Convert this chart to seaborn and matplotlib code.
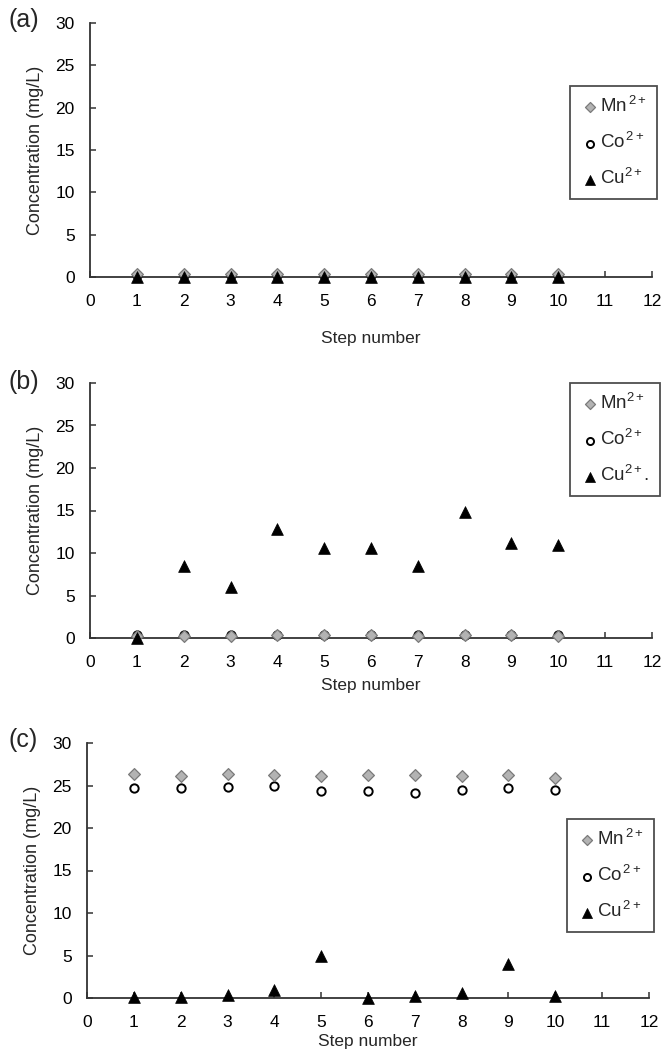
import matplotlib
matplotlib.use("Agg")
import matplotlib.pyplot as plt
import seaborn as sns
import pandas as pd

sns.set_theme(style="white")
plt.rcParams["font.family"] = ["Liberation Sans", "DejaVu Sans"]
plt.rcParams["mathtext.fontset"] = "custom"
plt.rcParams["mathtext.rm"] = "Liberation Sans"
plt.rcParams["mathtext.it"] = "Liberation Sans"
plt.rcParams["mathtext.default"] = "regular"

steps = [1, 2, 3, 4, 5, 6, 7, 8, 9, 10]

# (a)
mn_a = [0.3, 0.3, 0.3, 0.3, 0.3, 0.3, 0.3, 0.3, 0.3, 0.3]
co_a = [0.2, 0.2, 0.2, 0.2, 0.2, 0.2, 0.2, 0.2, 0.2, 0.2]
cu_a = [0.0, 0.0, 0.0, 0.0, 0.0, 0.0, 0.0, 0.0, 0.0, 0.0]

# (b)
mn_b = [0.2, 0.2, 0.2, 0.3, 0.3, 0.3, 0.2, 0.3, 0.3, 0.2]
co_b = [0.3, 0.3, 0.3, 0.4, 0.4, 0.4, 0.3, 0.4, 0.4, 0.3]
cu_b = [0.0, 8.5, 6.0, 12.8, 10.6, 10.6, 8.5, 14.8, 11.2, 11.0]

# (c)
mn_c = [26.3, 26.1, 26.4, 26.2, 26.1, 26.2, 26.2, 26.1, 26.2, 25.9]
co_c = [24.7, 24.7, 24.8, 25.0, 24.4, 24.4, 24.1, 24.5, 24.7, 24.5]
cu_c = [0.1, 0.1, 0.3, 1.0, 4.9, 0.0, 0.2, 0.6, 4.0, 0.2]

panel_tags = ["(a)", "(b)", "(c)"]
legend_labels = [
    [r"Mn$^{\,2+}$", r"Co$^{\,2+}$", r"Cu$^{2+}$"],
    [r"Mn$^{2+}$", r"Co$^{2+}$", r"Cu$^{2+}$."],
    [r"Mn$^{\,2+}$", r"Co$^{\,2+}$", r"Cu$^{\,2+}$"],
]
x_ticks = list(range(0, 13))
y_ticks = [0, 5, 10, 15, 20, 25, 30]

panels = [(mn_a, co_a, cu_a), (mn_b, co_b, cu_b), (mn_c, co_c, cu_c)]

W, H = 664, 1057
fig = plt.figure(figsize=(W / 100, H / 100), dpi=100)

# axes boxes in pixels: left, top, right, bottom
boxes = [(90, 23, 652, 277), (90, 383, 652, 638), (87, 743, 649, 998)]
legend_anchor = [(570, 86), (570, 383), (567, 819)]
tag_pos = [(8, 8), (8, 370), (8, 728)]
xlabel_pad = [16, 6, 3]

axis_color = "#333333"

for i, (mn, co, cu) in enumerate(panels):
    l, t, r, b = boxes[i]
    ax = fig.add_axes([l / W, 1 - b / H, (r - l) / W, (b - t) / H])
    df = pd.DataFrame({"step": steps, "Mn": mn, "Co": co, "Cu": cu})

    sns.scatterplot(data=df, x="step", y="Co", ax=ax, marker="o", s=36,
                    color="white", edgecolor="black", linewidth=1.4,
                    label=legend_labels[i][1], zorder=3, clip_on=False)
    sns.scatterplot(data=df, x="step", y="Mn", ax=ax, marker="D", s=36,
                    color="#b3b3b3", edgecolor="#7a7a7a", linewidth=0.9,
                    label=legend_labels[i][0], zorder=4, clip_on=False)
    sns.scatterplot(data=df, x="step", y="Cu", ax=ax, marker="^", s=72,
                    color="black", edgecolor="black", linewidth=0.5,
                    label=legend_labels[i][2], zorder=5, clip_on=False)

    ax.set_xlim(0, 12)
    ax.set_ylim(0, 30)
    ax.set_xticks(x_ticks)
    ax.set_yticks(y_ticks)
    sns.despine(ax=ax)
    for side in ("left", "bottom"):
        ax.spines[side].set_color(axis_color)
        ax.spines[side].set_linewidth(1.3)
    ax.tick_params(axis="both", direction="in", length=4, width=1.1,
                   color=axis_color, labelsize=12.5, labelcolor="black")
    ax.tick_params(axis="y", pad=11, left=True)
    ax.tick_params(axis="x", pad=12, bottom=True)
    ax.set_xlabel("Step number", fontsize=12.5, labelpad=xlabel_pad[i])
    ax.set_ylabel("Concentration (mg/L)", fontsize=13, labelpad=8)

    handles, labels = ax.get_legend_handles_labels()
    order = [1, 0, 2]
    ax_leg = ax.legend([handles[k] for k in order], [labels[k] for k in order],
                       loc="upper left",
                       bbox_to_anchor=(legend_anchor[i][0] / W, 1 - legend_anchor[i][1] / H),
                       bbox_transform=fig.transFigure, borderaxespad=0,
                       frameon=True, fancybox=False, fontsize=13.5,
                       labelspacing=0.85, handletextpad=0.05, handlelength=1.0,
                       borderpad=0.55, markerscale=0.85)
    frame = ax_leg.get_frame()
    frame.set_edgecolor("#222222")
    frame.set_linewidth(1.3)

    fig.text(tag_pos[i][0] / W, 1 - tag_pos[i][1] / H, panel_tags[i],
             fontsize=18, ha="left", va="top")

fig.savefig("out.png", dpi=100)
